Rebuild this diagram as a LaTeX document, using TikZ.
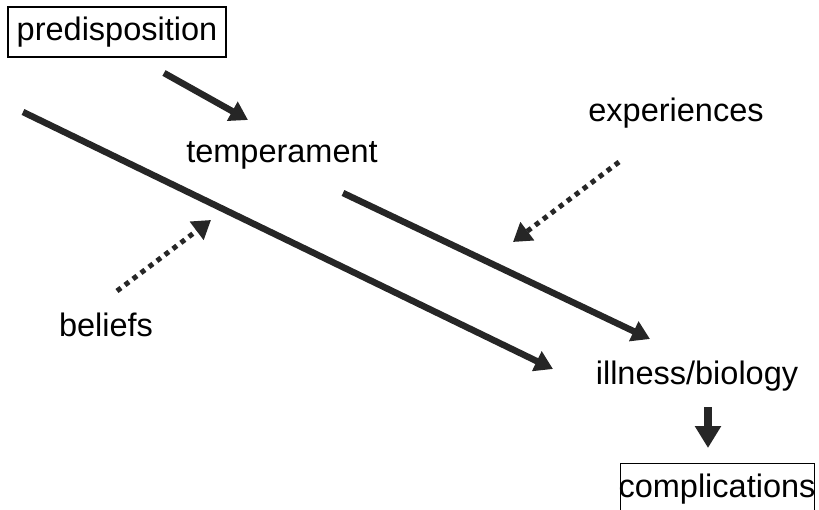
\documentclass[tikz,border=0pt]{standalone}
\usepackage{fontspec}
\setmainfont{Liberation Sans}
\usetikzlibrary{positioning, arrows.meta}

\begin{document}
\begin{tikzpicture}[x=1pt,y=-1pt,font=\fontsize{32.5}{38}\selectfont,
  label/.style={inner sep=2pt},
  boxed/.style={draw,line width=1.2pt,inner sep=0pt},
  solidarrow/.style={draw=black!85,line width=6.5pt,-{Triangle[length=18pt,width=21pt]}},
  dotarrow/.style={draw=black!85,line width=5pt,dash pattern=on 5pt off 5pt,-{Triangle[length=18pt,width=22pt]}},
  downarrow/.style={draw=black!85,line width=8pt,-{Triangle[length=22pt,width=25pt]}}]

\useasboundingbox (0,0) rectangle (819,510);
\clip (0,0) rectangle (819,510);

% Words
\node[boxed,minimum width=218pt,minimum height=50pt] (predisposition) at (117,32) {predisposition};
\node[label] (temperament) at (282,155) {temperament};
\node[label] (experiences) at (676,113) {experiences};
\node[label] (beliefs) at (106,325) {beliefs};
\node[label] (illness) at (697,376) {illness/biology};
\node[boxed,minimum width=194pt,minimum height=70pt,anchor=north west] (complications) at (620,463) {};
\node[inner sep=0pt] (complicationstext) at (717,489) {complications};

% Arrow ends
\coordinate (pre-a) at (164,73);
\coordinate (pre-b) at (248,120);
\coordinate (long-a) at (23,112);
\coordinate (long-b) at (553,369);
\coordinate (tem-a) at (343,193);
\coordinate (tem-b) at (650,339);
\coordinate (bel-a) at (117,291);
\coordinate (bel-b) at (211,220);
\coordinate (exp-a) at (619,162);
\coordinate (exp-b) at (513,242);
\coordinate (ill-a) at (708,407);
\coordinate (ill-b) at (708,448);

% Arrows
\draw[solidarrow] (pre-a) -- (pre-b);
\draw[solidarrow] (long-a) -- (long-b);
\draw[solidarrow] (tem-a) -- (tem-b);
\draw[dotarrow] (bel-a) -- (bel-b);
\draw[dotarrow] (exp-a) -- (exp-b);
\draw[downarrow] (ill-a) -- (ill-b);
\end{tikzpicture}
\end{document}
